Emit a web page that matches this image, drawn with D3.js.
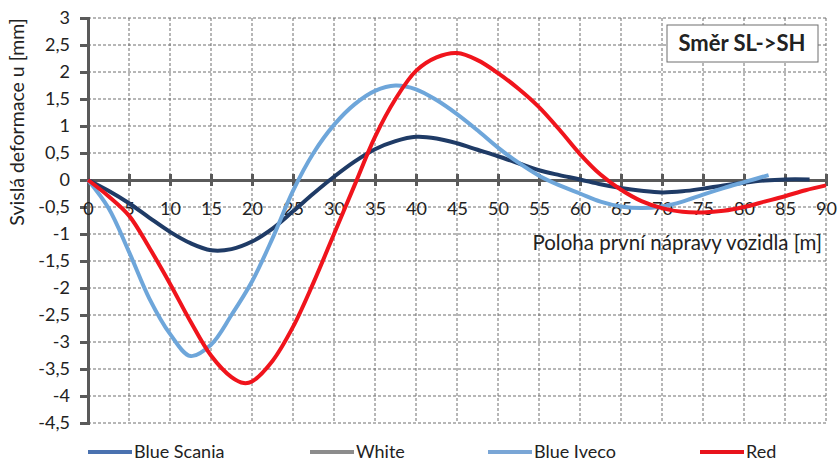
<!DOCTYPE html>
<html>
<head>
  <meta charset='utf-8'>
  <style>
  body { margin: 0; background: #fff; }
  text { font-family: Lato, 'Open Sans', sans-serif; fill: #222; }
  .grid line { stroke: #6f6f6f; stroke-width: 1; stroke-dasharray: 3,2; }
  .series { fill: none; stroke-width: 4px; }
  </style>
</head>
<body>
<script src='https://d3js.org/d3.v7.min.js'></script>
<script>

var SVG_WIDTH = 838;
var SVG_HEIGHT = 461;

var xTicks = d3.range(0, 91, 5);
var yTicks = [3, 2.5, 2, 1.5, 1, 0.5, 0, -0.5, -1, -1.5, -2, -2.5, -3, -3.5, -4, -4.5];

var scaniaX = [0, 2.5, 5, 7.5, 10, 12.5, 15, 17.5, 20, 22.5, 25, 27.5, 30, 32.5, 35, 37.5, 40, 42.5, 45, 47.5, 50, 52.5, 55, 57.5, 60, 62.5, 65, 67.5, 70, 72.5, 75, 77.5, 80, 82.5, 85, 88];
var scaniaY = [0, -0.2, -0.43, -0.7, -0.96, -1.17, -1.3, -1.28, -1.14, -0.9, -0.58, -0.25, 0.06, 0.34, 0.57, 0.72, 0.8, 0.77, 0.68, 0.56, 0.44, 0.31, 0.18, 0.09, 0.01, -0.08, -0.15, -0.2, -0.23, -0.21, -0.16, -0.1, -0.05, -0.01, 0.01, 0.01];

var ivecoX = [0, 2.5, 5, 7.5, 10, 12.5, 15, 17.5, 20, 22.5, 25, 27.5, 30, 32.5, 35, 37.5, 40, 42.5, 45, 47.5, 50, 52.5, 55, 57.5, 60, 62.5, 65, 67.5, 70, 72.5, 75, 77.5, 80, 83];
var ivecoY = [0, -0.52, -1.33, -2.2, -2.85, -3.26, -3.05, -2.5, -1.88, -1.08, -0.2, 0.5, 1.02, 1.4, 1.65, 1.75, 1.68, 1.48, 1.22, 0.92, 0.6, 0.32, 0.08, -0.1, -0.25, -0.4, -0.49, -0.52, -0.49, -0.4, -0.27, -0.15, -0.04, 0.09];

var redX = [0, 2.5, 5, 7.5, 10, 12.5, 15, 17.5, 19, 20, 22.5, 25, 27.5, 30, 32.5, 35, 37.5, 40, 42.5, 45, 47.5, 50, 52.5, 55, 57.5, 60, 62.5, 65, 67.5, 70, 72.5, 75, 77.5, 80, 82.5, 85, 87.5, 90];
var redY = [0, -0.3, -0.66, -1.26, -1.92, -2.62, -3.25, -3.65, -3.76, -3.73, -3.35, -2.72, -1.9, -1.0, -0.1, 0.8, 1.5, 2.02, 2.27, 2.35, 2.22, 1.98, 1.69, 1.35, 0.93, 0.48, 0.1, -0.18, -0.39, -0.52, -0.59, -0.6, -0.57, -0.5, -0.4, -0.3, -0.19, -0.1];

var legendNames = ['Blue Scania', 'White', 'Blue Iveco', 'Red'];
var legendColors = ['#4a72b0', '#8c8c8c', '#7aa6d6', '#e8131c'];

var series = [
  {x: scaniaX, y: scaniaY, color: '#1f3b66'},
  {x: ivecoX, y: ivecoY, color: '#6ea6da'},
  {x: redX, y: redY, color: '#f0141c'}
];

var svg = d3.select('body').append('svg')
    .attr('width', SVG_WIDTH)
    .attr('height', SVG_HEIGHT);

var x = d3.scaleLinear().domain([0, 90]).range([88, 826]);
var y = d3.scaleLinear().domain([-4.5, 3]).range([423, 18]);

// dashed grid
var grid = svg.append('g').attr('class', 'grid');
grid.selectAll('.gy').data(yTicks).enter().append('line')
    .attr('x1', x(0)).attr('x2', x(90))
    .attr('y1', function(d) { return y(d); }).attr('y2', function(d) { return y(d); });
grid.selectAll('.gx').data(xTicks.slice(1)).enter().append('line')
    .attr('y1', y(3)).attr('y2', y(-4.5))
    .attr('x1', function(d) { return x(d); }).attr('x2', function(d) { return x(d); });

// y axis
var yAxis = svg.append('g')
    .attr('transform', 'translate(' + x(0) + ',0)')
    .call(d3.axisLeft(y).tickValues(yTicks).tickSize(8).tickPadding(10)
      .tickFormat(function(d) { return String(d).replace('.', ','); }));
yAxis.select('.domain').attr('stroke', '#5a5a5a').attr('stroke-width', 3);
yAxis.selectAll('.tick line').attr('stroke', '#5a5a5a').attr('stroke-width', 3);
yAxis.selectAll('.tick text').style('font-size', '18px').style('font-family', 'Lato').attr('fill', '#222');

// x axis on the zero line, crossing ticks
var xAxis = svg.append('g')
    .attr('transform', 'translate(0,' + y(0) + ')')
    .call(d3.axisBottom(x).tickValues(xTicks).tickSize(0).tickPadding(22));
xAxis.select('.domain').attr('stroke', '#5a5a5a').attr('stroke-width', 3);
xAxis.selectAll('.tick text').style('font-size', '18px').style('font-family', 'Lato').attr('fill', '#222');
xAxis.selectAll('.tick').filter(function(d) { return d > 0; }).append('line')
    .attr('y1', -6).attr('y2', 6)
    .attr('stroke', '#5a5a5a').attr('stroke-width', 3);

// axis titles
svg.append('text')
    .attr('transform', 'translate(24,122) rotate(-90)')
    .attr('text-anchor', 'middle')
    .style('font-size', '19.5px')
    .text('Svislá deformace u [mm]');

svg.append('text')
    .attr('x', 822).attr('y', 250)
    .attr('text-anchor', 'end')
    .style('font-size', '20.5px')
    .text('Poloha první nápravy vozidla [m]');

// series
var line = d3.line()
    .x(function(d) { return x(d[0]); })
    .y(function(d) { return y(d[1]); })
    .curve(d3.curveCatmullRom.alpha(0.5));

series.forEach(function(s) {
  svg.append('path')
      .datum(d3.zip(s.x, s.y))
      .attr('class', 'series')
      .attr('stroke', s.color)
      .attr('d', line);
});

// title box
svg.append('rect')
    .attr('x', 667).attr('y', 25).attr('width', 151).attr('height', 37)
    .attr('fill', '#fff').attr('stroke', '#6e6e6e').attr('stroke-width', 1);
svg.append('text')
    .attr('x', 742).attr('y', 51)
    .attr('text-anchor', 'middle')
    .style('font-size', '22px').style('font-weight', 'bold')
    .text('Směr SL->SH');

// legend
var legendX = [88, 310, 488, 700];
var legend = svg.append('g');
legendNames.forEach(function(name, i) {
  legend.append('line')
      .attr('x1', legendX[i]).attr('x2', legendX[i] + 44)
      .attr('y1', 452).attr('y2', 452)
      .attr('stroke', legendColors[i]).attr('stroke-width', 4);
  legend.append('text')
      .attr('x', legendX[i] + 46).attr('y', 458)
      .style('font-size', '18px')
      .text(name);
});

</script>
</body>
</html>
